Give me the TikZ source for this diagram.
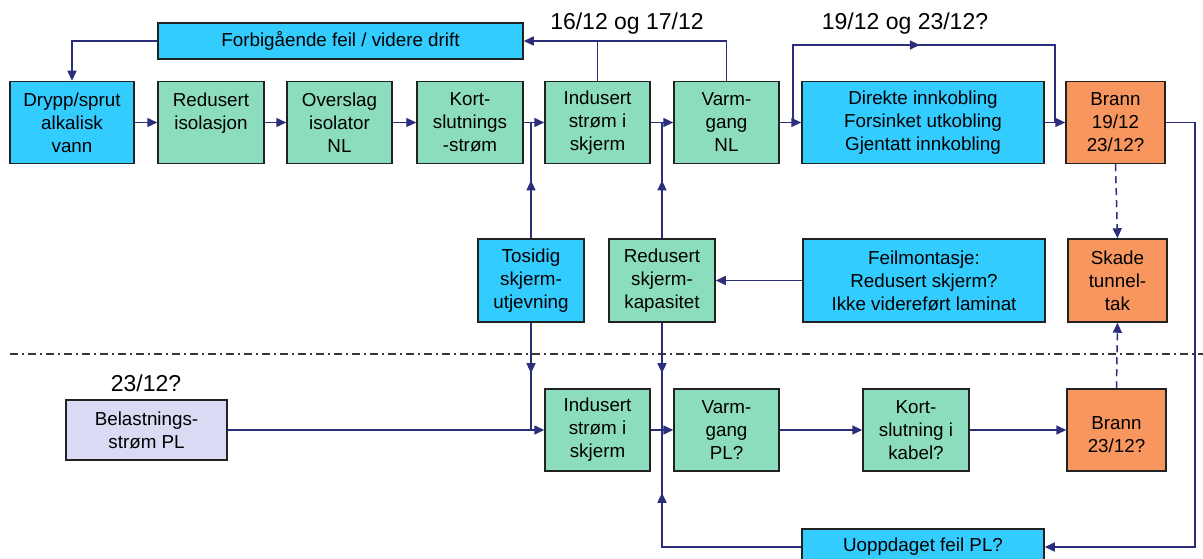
\documentclass[tikz,border=0pt]{standalone}
\usepackage{fontspec}
\setmainfont{Liberation Sans}
\usetikzlibrary{arrows.meta,decorations.markings}
\definecolor{cy}{HTML}{33CCFF}
\definecolor{gr}{HTML}{8CDDBE}
\definecolor{orn}{HTML}{F7965F}
\definecolor{lav}{HTML}{DADAF4}
\definecolor{ln}{HTML}{2B2E7A}
\definecolor{bd}{HTML}{222222}
\begin{document}
\begin{tikzpicture}[x=1pt,y=-1pt,
  box/.style={draw=bd, line width=1.5pt, inner sep=0pt, align=center,
    font=\fontsize{18.8}{23}\selectfont, minimum height=82pt, minimum width=106pt},
  cbox/.style={box, fill=cy},
  gbox/.style={box, fill=gr},
  obox/.style={box, fill=orn, minimum width=99pt},
  lbox/.style={box, fill=lav, minimum width=161pt, minimum height=60pt},
  lbl/.style={font=\fontsize{23}{27}\selectfont, inner sep=0pt},
  conn/.style={draw=ln, line width=1.5pt},
  tip/.tip={Triangle[length=10pt,width=9pt]},
  arr/.style={conn, -tip},
  darr/.style={arr, dashed, dash pattern=on 7pt off 5pt},
  midarr/.style={conn, postaction={decorate},
    decoration={markings, mark=at position #1 with {\arrow{tip}}}},
  sep/.style={draw=bd!90, line width=1.5pt, dash pattern=on 8pt off 4pt on 2pt off 4pt}
]
\useasboundingbox (0,0) rectangle (1203,559);

% separator
\draw[sep] (10,354) -- (1203,354);

% top row
\node[cbox, minimum width=124pt] (drypp) at (72,122.5) {Drypp/sprut\\alkalisk\\vann};
\node[gbox] (rediso) at (211,122.5) {Redusert\\isolasjon\\\mbox{}};
\node[gbox, minimum width=105pt] (oversl) at (339.5,122.5) {Overslag\\isolator\\NL};
\node[gbox] (kort1) at (470,122.5) {Kort-\\slutnings\\-strøm};
\node[gbox, minimum width=105pt] (ind1) at (597.5,122.5) {Indusert\\strøm i\\skjerm};
\node[gbox, minimum width=105pt] (varm1) at (726.5,122.5) {Varm-\\gang\\NL};
\node[cbox, minimum width=242pt] (dir) at (923,122.5) {Direkte innkobling\\Forsinket utkobling\\Gjentatt innkobling};
\node[obox] (brann1) at (1115.5,122.5) {Brann\\19/12\\23/12?};
\node[cbox, minimum width=365pt, minimum height=36pt] (forb) at (340.5,41) {Forbigående feil / videre drift};

\node[lbl] (t1) at (627,24) {16/12 og 17/12};
\node[lbl] (t2) at (905,24) {19/12 og 23/12?};

% middle row
\node[cbox, minimum height=83pt] (tos) at (531,280.5) {Tosidig\\skjerm-\\utjevning};
\node[gbox, minimum height=83pt] (redkap) at (662,280.5) {Redusert\\skjerm-\\kapasitet};
\node[cbox, minimum width=242pt, minimum height=83pt] (feil) at (924,280.5) {Feilmontasje:\\Redusert skjerm?\\Ikke videreført laminat};
\node[obox, minimum height=83pt] (skade) at (1117.5,280.5) {Skade\\tunnel-\\tak};

% bottom row
\node[lbl] (t3) at (146,383) {23/12?};
\node[lbox] (bel) at (146.5,430) {Belastnings-\\strøm PL};
\node[gbox, minimum width=105pt] (ind2) at (597.5,430) {Indusert\\strøm i\\skjerm};
\node[gbox, minimum width=105pt] (varm2) at (726.5,430) {Varm-\\gang\\PL?};
\node[gbox] (kort2) at (916,430) {Kort-\\slutning i\\kabel?};
\node[obox] (brann2) at (1116.5,430) {\mbox{}\\Brann\\23/12?};
\node[cbox, minimum width=242pt, minimum height=36pt] (uopp) at (923,547) {Uoppdaget feil PL?};

% coordinates
\coordinate (j1) at (531,122.5);
\coordinate (j2) at (662,122.5);
\coordinate (j3) at (531,430);
\coordinate (j4) at (662,430);
\coordinate (l1) at (793,122.5);
\coordinate (l2) at (793,45);
\coordinate (l3) at (1055,45);
\coordinate (l4) at (1055,122.5);
\coordinate (r1) at (1195,122.5);
\coordinate (r2) at (1195,547);
\coordinate (u1) at (662,547);

% top row connectors
\draw[arr] (drypp.east) -- (rediso.west);
\draw[arr] (rediso.east) -- (oversl.west);
\draw[arr, line width=1pt] (oversl.east) -- (kort1.west);
\draw[arr] (kort1.east) -- (ind1.west);
\draw[arr] (ind1.east) -- (varm1.west);
\draw[arr] (varm1.east) -- (dir.west);
\draw[arr] (dir.east) -- (brann1.west);
\draw[midarr=0.49] (l1) -- (l2) -- (l3) -- (l4);
\draw[arr] (varm1.north) |- (forb.east);
\draw[conn] (ind1.north) -- (ind1.north |- forb.east);
\draw[arr] (forb.west) -| (drypp.north);

% verticals
\draw[midarr=0.5] (tos.north) -- (j1);
\draw[midarr=0.5] (redkap.north) -- (j2);
\draw[midarr=0.47] (tos.south) -- (j3);
\draw[midarr=0.47] (redkap.south) -- (j4);
\draw[arr] (feil.west) -- (redkap.east);

% bottom row connectors
\draw[arr] (bel.east) -- (ind2.west);
\draw[arr] (ind2.east) -- (varm2.west);
\draw[arr] (varm2.east) -- (kort2.west);
\draw[arr] (kort2.east) -- (brann2.west);
\draw[midarr=0.755] (uopp.west) -- (u1) -- (j4);
\draw[arr] (brann1.east) -- (r1) -- (r2) -- (uopp.east);

% dashed
\draw[darr] (brann1.south) -- (skade.north);
\draw[darr] (brann2.north) -- (skade.south);
\end{tikzpicture}
\end{document}
